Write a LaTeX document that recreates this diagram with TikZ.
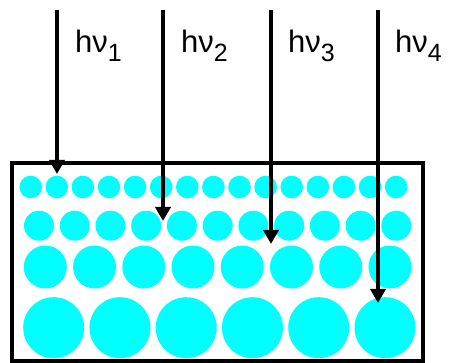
\documentclass[tikz,border=0pt]{standalone}
\usepackage{fontspec}
\setmainfont{Liberation Sans}
\usetikzlibrary{arrows.meta}
\definecolor{aqua}{RGB}{0,255,255}
\tikzset{
  dot/.style={fill=aqua, draw=none},
  ray/.style={line width=3.6pt, -{Triangle[width=15pt,length=14pt]}},
  lbl/.style={anchor=base west, inner sep=0pt, font=\fontsize{31}{31}\selectfont},
}
\newcommand{\hnu}[1]{hν\raisebox{-9pt}{\fontsize{25}{25}\selectfont #1}}
\begin{document}
\begin{tikzpicture}[x=1pt,y=-1pt]
\useasboundingbox (0,0) rectangle (455,363);
% row 1
\foreach \i in {0,...,14} \fill[dot] (30.7+26.1*\i,187) circle (11.3);
% row 2
\foreach \i in {0,...,10} \fill[dot] (39+35.73*\i,225.7) circle (15);
% row 3
\foreach \i in {0,...,7} \fill[dot] (45.3+49.24*\i,267) circle (21.5);
% row 4
\foreach \i in {0,...,5} \fill[dot] (53.7+66.26*\i,327.7) circle (30.5);
% box
\node[draw, line width=4pt, minimum width=411pt, minimum height=198pt, inner sep=0pt] (box) at (217.5,262) {};
% rays
\coordinate (s1) at (57,10); \coordinate (e1) at (57,174);
\coordinate (s2) at (163,10); \coordinate (e2) at (163,221);
\coordinate (s3) at (271,10); \coordinate (e3) at (271,244);
\coordinate (s4) at (378,10); \coordinate (e4) at (378,303);
\draw[ray] (s1) -- (e1);
\draw[ray] (s2) -- (e2);
\draw[ray] (s3) -- (e3);
\draw[ray] (s4) -- (e4);
% labels
\node[lbl] (l1) at (75,53) {\hnu{1}};
\node[lbl] (l2) at (181,53) {\hnu{2}};
\node[lbl] (l3) at (288,53) {\hnu{3}};
\node[lbl] (l4) at (395,53) {\hnu{4}};
\end{tikzpicture}
\end{document}
